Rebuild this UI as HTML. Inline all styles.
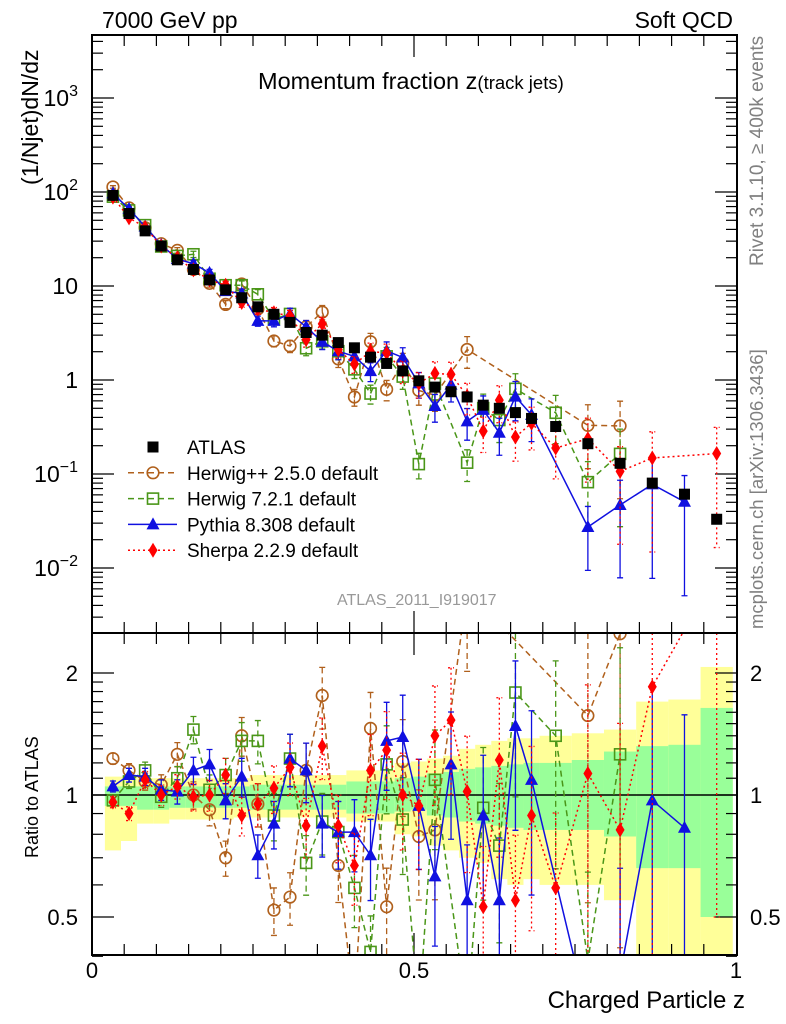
<!DOCTYPE html>
<html><head><meta charset="utf-8"><style>
html,body{margin:0;padding:0;background:#fff;width:786px;height:1024px;overflow:hidden}
svg{display:block;font-family:"Liberation Sans",sans-serif}
</style></head><body>
<svg id="c" width="786" height="1024" viewBox="0 0 786 1024" xmlns="http://www.w3.org/2000/svg">
<defs>
<clipPath id="cm"><rect x="92" y="35" width="645" height="598"/></clipPath>
<clipPath id="cr"><rect x="92" y="633" width="645" height="322"/></clipPath>
</defs>
<g id="bands" clip-path="url(#cr)"></g>
<g id="grid"></g>
<g id="marks"></g>
<rect x="92" y="35" width="645" height="598" fill="none" stroke="#000" stroke-width="2"/>
<rect x="92" y="633" width="645" height="322" fill="none" stroke="#000" stroke-width="2"/>
<text x="102" y="28" font-size="23">7000 GeV pp</text>
<text x="733" y="28" font-size="23" text-anchor="end">Soft QCD</text>
<text x="258" y="89" font-size="23.5">Momentum fraction z<tspan font-size="18.5">(track jets)</tspan></text>
<text transform="translate(38,185) rotate(-90)" font-size="23">(1/Njet)dN/dz</text>
<text transform="translate(38,858) rotate(-90)" font-size="18">Ratio to ATLAS</text>
<text x="745" y="1008" font-size="24" text-anchor="end">Charged Particle z</text>
<text transform="translate(763,266) rotate(-90)" font-size="19" fill="#808080">Rivet 3.1.10, ≥ 400k events</text>
<text transform="translate(763,629) rotate(-90)" font-size="18.5" fill="#808080">mcplots.cern.ch [arXiv:1306.3436]</text>
<text x="337" y="605" font-size="16" fill="#999">ATLAS_2011_I919017</text>
<g id="legend"></g>
</svg>
<script>
const zCenters=[0.0325,0.0575,0.0825,0.1075,0.1325,0.1575,0.1825,0.2075,0.2325,0.2575,0.2825,0.3075,0.3325,0.3575,0.3825,0.4075,0.4325,0.4575,0.4825,0.5075,0.5325,0.5575,0.5825,0.6075,0.6325,0.6575,0.6825,0.72,0.77,0.82,0.87,0.92,0.97];
const zEdges=[0.02,0.045,0.07,0.095,0.12,0.145,0.17,0.195,0.22,0.245,0.27,0.295,0.32,0.345,0.37,0.395,0.42,0.445,0.47,0.495,0.52,0.545,0.57,0.595,0.62,0.645,0.67,0.695,0.745,0.795,0.845,0.895,0.945,0.995];
const atlas=[92,59,38.6,26.6,19,15,11.6,9.1,7.5,6,5.0,4.1,3.2,3.0,2.5,2.2,1.75,1.5,1.25,0.98,0.84,0.75,0.66,0.54,0.50,0.45,0.39,0.32,0.21,0.13,0.08,0.061,0.033];
const herwigpp=[1.23,1.15,1.08,1.06,1.26,1.0,0.92,0.70,1.40,0.95,0.52,0.56,1.15,1.76,0.67,0.30,1.46,0.53,1.21,0.79,0.82,null,3.2,null,null,null,null,null,1.57,2.5,null,null,null];
const herwig7=[0.97,1.08,1.15,0.99,1.10,1.45,1.03,1.12,1.36,1.36,0.89,1.23,0.68,0.86,0.81,0.59,0.41,1.19,0.87,0.13,1.09,null,0.2,0.93,0.75,1.79,null,1.40,0.39,1.26,null,null,null];
const pythia=[1.05,1.12,1.11,1.03,1.02,1.15,1.19,0.97,1.11,0.71,0.85,1.23,1.15,0.85,0.81,0.81,0.71,1.36,1.39,0.94,0.63,1.19,0.55,0.89,0.55,1.48,1.09,null,0.13,0.36,0.97,0.83,null];
const sherpa=[0.96,0.90,1.09,1.0,1.05,0.99,1.0,1.12,0.89,0.95,1.04,1.17,0.84,1.32,0.84,0.67,1.15,1.29,1.0,0.94,1.40,1.53,1.02,0.53,1.22,0.55,0.89,0.59,1.13,0.82,1.85,null,5.0];
const yellowHi=[1.11,1.11,1.1,1.1,1.1,1.1,1.1,1.1,1.1,1.12,1.12,1.12,1.12,1.12,1.12,1.15,1.15,1.15,1.2,1.21,1.23,1.25,1.3,1.33,1.36,1.38,1.38,1.4,1.42,1.45,1.7,1.72,2.07];
const yellowLo=[0.73,0.77,0.85,0.85,0.87,0.87,0.87,0.87,0.88,0.88,0.88,0.88,0.88,0.88,0.88,0.86,0.86,0.86,0.8,0.79,0.75,0.73,0.7,0.68,0.62,0.6,0.62,0.6,0.6,0.55,0.3,0.3,0.3];
const greenHi=[1.05,1.05,1.05,1.05,1.05,1.05,1.05,1.05,1.05,1.06,1.06,1.06,1.06,1.06,1.06,1.08,1.08,1.08,1.1,1.11,1.13,1.14,1.16,1.17,1.18,1.19,1.2,1.2,1.22,1.28,1.32,1.33,1.64];
const greenLo=[0.94,0.94,0.92,0.92,0.93,0.93,0.93,0.93,0.93,0.92,0.92,0.92,0.92,0.92,0.92,0.9,0.9,0.9,0.91,0.92,0.89,0.88,0.86,0.85,0.84,0.83,0.82,0.82,0.82,0.79,0.66,0.66,0.5];
const mainTicks=["10^-2","10^-1","1","10","10^2","10^3"];
const ratioTicks=["0.5","1","2"];
const xTicks=["0","0.5","1"];

const NS="http://www.w3.org/2000/svg";
const X=z=>92+644*z, YM=v=>380-94*Math.log10(v), YR=r=>795-122*Math.log2(r);
const cl=(y,a,b)=>Math.max(a,Math.min(b,y));
function mk(t,a,p){const e=document.createElementNS(NS,t);for(const k in a)e.setAttribute(k,a[k]);p.appendChild(e);return e;}
const bands=document.getElementById('bands'),grid=document.getElementById('grid'),marks=document.getElementById('marks'),leg=document.getElementById('legend');

for(let i=0;i<zCenters.length;i++){
 const x0=X(zEdges[i]),x1=X(zEdges[i+1]);
 const yh1=cl(YR(yellowHi[i]),633,955),yl1=cl(YR(yellowLo[i]),633,955);
 let r=mk('rect',{x:x0,y:yh1,width:x1-x0,height:yl1-yh1,fill:'#ffff99'},bands);
 
 
 const yh2=cl(YR(greenHi[i]),633,955),yl2=cl(YR(greenLo[i]),633,955);
 r=mk('rect',{x:x0,y:yh2,width:x1-x0,height:yl2-yh2,fill:'#99ff99'},bands);
 
 
}
function tick(x1,y1,x2,y2){const l=mk('line',{x1,y1,x2,y2,stroke:'#000','stroke-width':1.2},grid);}
for(let e=-3;e<=3;e++)for(let m=1;m<10;m++){const v=m*Math.pow(10,e),y=YM(v);if(y<36||y>632)continue;const L=m==1?22:11;tick(92,y,92+L,y);tick(737,y,737-L,y);}
mainTicks.forEach(s=>{const p=s.split('^');const v=p.length>1?Math.pow(10,+p[1]):+s;const y=YM(v);
 const t=mk('text',{x:78,y:y+8,'font-size':23,'text-anchor':'end'},grid);
 if(p.length>1){t.textContent='10';const ts=mk('tspan',{dy:-10,'font-size':16},t);ts.textContent=p[1].replace('-','−');}else t.textContent=s;});
[0.4,0.5,0.6,0.7,0.8,0.9,1,1.1,1.2,1.3,1.4,1.5,1.6,1.7,1.8,1.9,2].forEach(r=>{const y=YR(r);const L=(r==0.5||r==1||r==2)?22:11;tick(92,y,92+L,y);tick(737,y,737-L,y);});
ratioTicks.forEach(s=>{const y=YR(+s);
 let t=mk('text',{x:78,y:y+8,'font-size':22,'text-anchor':'end'},grid);t.textContent=s;
 t=mk('text',{x:750,y:y+8,'font-size':22},grid);t.textContent=s;});
for(let k=1;k<20;k++){const x=X(k*0.05),L=k==10?22:11;tick(x,35,x,35+L);tick(x,633,x,633+L);tick(x,955,x,955-L);tick(x,633,x,633-L);}
xTicks.forEach(s=>{const t=mk('text',{x:X(+s),y:978,'font-size':22,'text-anchor':'middle'},grid);t.textContent=s;});
const ul=mk('line',{x1:92,y1:YR(1),x2:737,y2:YR(1),stroke:'#000','stroke-width':1.5},grid);



function marker(type,x,y,col,g){let e;
 if(type=='sq')e=mk('rect',{x:x-5.5,y:y-5.5,width:11,height:11,fill:'#000'},g);
 else if(type=='osq')e=mk('rect',{x:x-5.5,y:y-5.5,width:11,height:11,fill:'none',stroke:col,'stroke-width':1.6},g);
 else if(type=='circ')e=mk('circle',{cx:x,cy:y,r:5.8,fill:'none',stroke:col,'stroke-width':1.6},g);
 else if(type=='tri')e=mk('path',{d:`M${x},${y-7}L${x+6.5},${y+5}L${x-6.5},${y+5}Z`,fill:col},g);
 else e=mk('path',{d:`M${x},${y-7.5}L${x+4.5},${y}L${x},${y+7.5}L${x-4.5},${y}Z`,fill:col},g);
 return e;}
const series=[
 {name:'herwigpp',data:herwigpp,col:'#b0601c',m:'circ',dash:'6,4',label:'Herwig++ 2.5.0 default'},
 {name:'herwig7',data:herwig7,col:'#4a9618',m:'osq',dash:'6,4',label:'Herwig 7.2.1 default'},
 {name:'pythia',data:pythia,col:'#1010e0',m:'tri',dash:'',label:'Pythia 8.308 default'},
 {name:'sherpa',data:sherpa,col:'#ff0000',m:'dia',dash:'2,3',label:'Sherpa 2.2.9 default'}];
function relErr(v){return Math.min(0.9,0.03*Math.sqrt(100/v));}
series.forEach(s=>{
 ['main','ratio'].forEach(panel=>{
  const top=panel=='main'?35:633,bot=panel=='main'?633:955;
  const g=mk('g',{'clip-path':panel=='main'?'url(#cm)':'url(#cr)'},marks);
  
  
  const pts=[];
  s.data.forEach((r,i)=>{if(r==null)return;const v=atlas[i]*r;const x=X(zCenters[i]);
   const e=relErr(atlas[i]);
   const y=panel=='main'?YM(v):YR(r);
   const yh=cl(panel=='main'?YM(v*(1+e)):YR(r*(1+e)),top,bot), yl=cl(panel=='main'?YM(Math.max(v*(1-e),1e-4)):YR(Math.max(r*(1-e),0.05)),top,bot);
   if(yl>yh){
   const eb=mk('path',{d:`M${x},${yh}L${x},${yl}M${x-3},${yh}L${x+3},${yh}M${x-3},${yl}L${x+3},${yl}`,stroke:s.col,'stroke-width':1.3,fill:'none','stroke-dasharray':s.dash},g);
   
   }
   pts.push([x,y]);});
  const pl=mk('polyline',{points:pts.map(p=>p[0]+','+cl(p[1],top-60,bot+60)).join(' '),fill:'none',stroke:s.col,'stroke-width':1.5,'stroke-dasharray':s.dash},g);
  
  
  pts.forEach(p=>{if(p[1]<top-8||p[1]>bot+8)return;const m=marker(s.m,p[0],p[1],s.col,g);
   
   });
 });
});
const ga=mk('g',{'clip-path':'url(#cm)'},marks);


atlas.forEach((v,i)=>{const m=marker('sq',X(zCenters[i]),YM(v),'#000',ga);
 
 });
const rows=[{m:'sq',col:'#000',dash:null,label:'ATLAS'}].concat(series);
rows.forEach((s,i)=>{const y=447+i*25.8;
 const g=mk('g',{},leg);
 
 
 if(s.dash!==null)mk('line',{x1:128,y1:y,x2:177,y2:y,stroke:s.col,'stroke-width':1.5,'stroke-dasharray':s.dash},g);
 marker(s.m,153,y,s.col,g);
 const t=mk('text',{x:187,y:y+7,'font-size':19},g);t.textContent=s.label;});
</script>
</body></html>
